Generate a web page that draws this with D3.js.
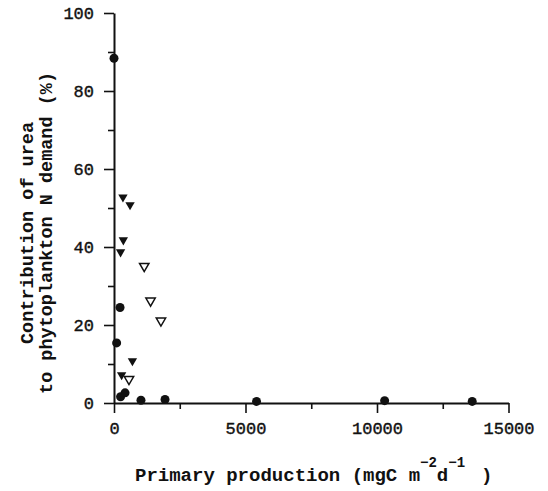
<!DOCTYPE html>
<html>
<head>
<meta charset="utf-8">
<script src="https://cdn.jsdelivr.net/npm/d3@7"></script>
<style>
  body { margin: 0; background: #fff; }
  svg text { font-family: "Liberation Mono", "DejaVu Sans Mono", monospace; fill: #111; }
  .tick text { font-size: 17px; stroke: #111; stroke-width: 0.4; }
  .axis-title { font-size: 18.5px; font-weight: bold; }
</style>
</head>
<body>
<div id="chart"></div>
<script>
var svgWidth = 548;
var svgHeight = 491;

var margin = { top: 13, right: 39.5, bottom: 88, left: 114 };
var width = svgWidth - margin.left - margin.right;
var height = svgHeight - margin.top - margin.bottom;

// data
var xMajorTicks = [0, 5000, 10000, 15000];
var xMinorTicks = [2500, 7500, 12500];
var yMajorTicks = [0, 20, 40, 60, 80, 100];
var yMinorTicks = [10, 30, 50, 70, 90];

// filled circles
var circleX = [0, 100, 230, 250, 420, 1025, 1940, 5420, 10290, 13620];
var circleY = [88.4, 15.4, 24.5, 1.6, 2.6, 0.7, 0.9, 0.4, 0.6, 0.4];

// filled down triangles
var filledTriX = [340, 610, 355, 250, 700, 290];
var filledTriY = [52.8, 50.8, 41.8, 38.7, 10.8, 7.2];

// open down triangles
var openTriX = [1150, 1390, 1785, 570];
var openTriY = [35.1, 26.2, 21.1, 6.1];

var svg = d3.select("#chart")
  .append("svg")
  .attr("width", svgWidth)
  .attr("height", svgHeight);

var chartGroup = svg.append("g")
  .attr("transform", `translate(${margin.left}, ${margin.top})`);

var xScale = d3.scaleLinear().domain([0, 15000]).range([0, width]);
var yScale = d3.scaleLinear().domain([0, 100]).range([height, 0]);

function styleAxis(g) {
  g.select(".domain").attr("stroke", "#111").attr("stroke-width", 2);
  g.selectAll(".tick line").attr("stroke", "#111").attr("stroke-width", 1.6);
}

// x axis: major ticks with labels, minor ticks without
chartGroup.append("g")
  .attr("transform", `translate(0, ${height})`)
  .call(d3.axisBottom(xScale).tickValues(xMajorTicks).tickSize(10).tickSizeOuter(0).tickPadding(9).tickFormat(d3.format("d")))
  .call(styleAxis)
  .call(g => g.selectAll(".tick text").attr("fill", "#111"));

chartGroup.append("g")
  .attr("transform", `translate(0, ${height})`)
  .call(d3.axisBottom(xScale).tickValues(xMinorTicks).tickSize(6).tickSizeOuter(0).tickFormat(""))
  .call(styleAxis)
  .call(g => g.select(".domain").remove());

// y axis
chartGroup.append("g")
  .call(d3.axisLeft(yScale).tickValues(yMajorTicks).tickSize(10).tickSizeOuter(0).tickPadding(10).tickFormat(d3.format("d")))
  .call(styleAxis)
  .call(g => g.selectAll(".tick text").attr("fill", "#111"));

chartGroup.append("g")
  .call(d3.axisLeft(yScale).tickValues(yMinorTicks).tickSize(6).tickSizeOuter(0).tickFormat(""))
  .call(styleAxis)
  .call(g => g.select(".domain").remove());

// markers
var circleData = circleX.map((x, i) => ({ x: x, y: circleY[i] }));
var filledTriData = filledTriX.map((x, i) => ({ x: x, y: filledTriY[i] }));
var openTriData = openTriX.map((x, i) => ({ x: x, y: openTriY[i] }));

chartGroup.selectAll(".dot")
  .data(circleData)
  .enter()
  .append("circle")
  .attr("class", "dot")
  .attr("cx", d => xScale(d.x))
  .attr("cy", d => yScale(d.y))
  .attr("r", 4.5)
  .attr("fill", "#111");

var triPath = d3.symbol().type(d3.symbolTriangle).size(38)();

chartGroup.selectAll(".ftri")
  .data(filledTriData)
  .enter()
  .append("path")
  .attr("class", "ftri")
  .attr("d", triPath)
  .attr("transform", d => `translate(${xScale(d.x)}, ${yScale(d.y)}) rotate(180)`)
  .attr("fill", "#111");

chartGroup.selectAll(".otri")
  .data(openTriData)
  .enter()
  .append("path")
  .attr("class", "otri")
  .attr("d", triPath)
  .attr("transform", d => `translate(${xScale(d.x)}, ${yScale(d.y)}) rotate(180)`)
  .attr("fill", "#fff")
  .attr("stroke", "#111")
  .attr("stroke-width", 1.5);

// x axis title with superscripts
var xTitle = svg.append("text")
  .attr("class", "axis-title")
  .attr("x", 135)
  .attr("y", 481);
xTitle.append("tspan").attr("font-size", 19).text("Primary production (mgC m");
xTitle.append("tspan").attr("dy", -14).attr("font-size", 14).text("\u22122");
xTitle.append("tspan").attr("dy", 14).attr("font-size", 19).text("d");
xTitle.append("tspan").attr("dy", -14).attr("font-size", 14).text("\u22121");
xTitle.append("tspan").attr("dy", 14).attr("dx", 16).attr("font-size", 19).text(")");

// y axis title, two lines
var yTitle = svg.append("text")
  .attr("class", "axis-title")
  .attr("text-anchor", "middle")
  .attr("transform", "translate(33, 233) rotate(-90)");
yTitle.append("tspan").attr("x", 0).attr("y", 0).text("Contribution of urea");
yTitle.append("tspan").attr("x", 0).attr("y", 19).text("to phytoplankton N demand (%)");
</script>
</body>
</html>
